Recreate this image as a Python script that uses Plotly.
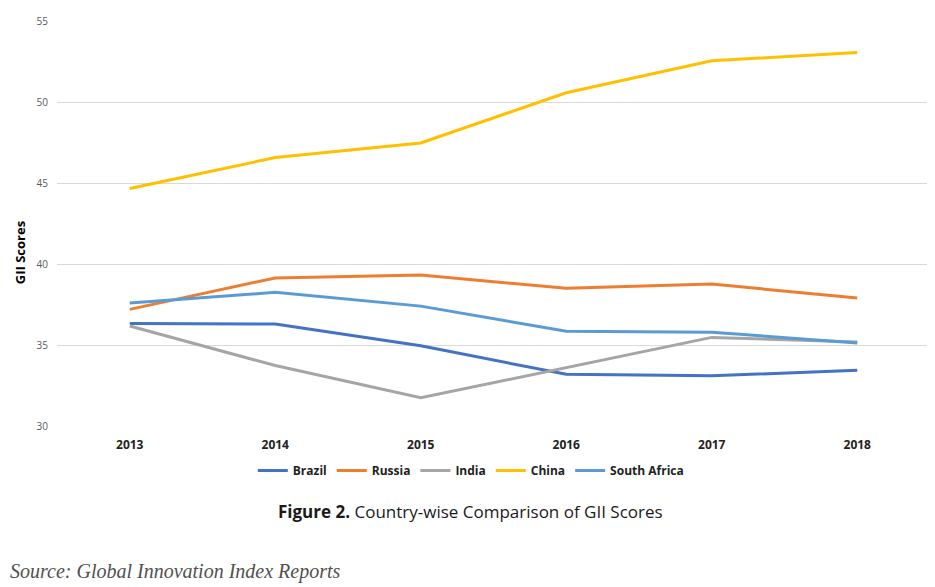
import plotly.graph_objects as go

years = ["2013", "2014", "2015", "2016", "2017", "2018"]
brazil = [36.33, 36.29, 34.95, 33.19, 33.10, 33.44]
russia = [37.20, 39.14, 39.32, 38.50, 38.76, 37.90]
india = [36.17, 33.73, 31.74, 33.61, 35.47, 35.18]
china = [44.66, 46.57, 47.47, 50.57, 52.54, 53.06]
south_africa = [37.60, 38.25, 37.40, 35.85, 35.79, 35.13]

series = [
    ("Brazil", brazil, "#4472C4"),
    ("Russia", russia, "#ED7D31"),
    ("India", india, "#A5A5A5"),
    ("China", china, "#FFC000"),
    ("South Africa", south_africa, "#5B9BD5"),
]

fig = go.Figure()
for name, vals, color in series:
    fig.add_trace(go.Scatter(x=years, y=vals, name=name, mode="lines",
                             line=dict(color=color, width=3)))

fig.update_layout(
    width=927, height=579,
    margin=dict(l=49, r=5, t=8, b=161),
    plot_bgcolor="white", paper_bgcolor="white",
    font=dict(family="Open Sans", color="#000"),
    showlegend=True,
    legend=dict(orientation="h", x=0.474, xanchor="center", y=-0.11, yanchor="middle",
                font=dict(size=12, color="#222", family="Open Sans", weight="bold"),
                itemwidth=30, tracegroupgap=0),
    xaxis=dict(type="category", range=[-0.5, 5.5], showgrid=False, showline=False,
               ticks="", ticklabelstandoff=10,
               tickfont=dict(size=12, color="#222", weight="bold")),
    yaxis=dict(range=[30, 55], dtick=5, showgrid=True, gridcolor="#D9D9D9", gridwidth=1,
               zeroline=False, showline=False, ticks="", ticklabelstandoff=8,
               tickfont=dict(size=10, color="#595959")),
    annotations=[
        dict(text="<b>GII Scores</b>", textangle=-90, x=-0.0424, y=0.429, xref="paper", yref="paper",
             xanchor="center", yanchor="middle",
             showarrow=False, font=dict(size=13, color="#000")),
        dict(text="<b>Figure 2.</b> Country-wise Comparison of GII Scores", x=0.474, y=-0.212,
             xref="paper", yref="paper", showarrow=False, xanchor="center", yanchor="middle",
             font=dict(size=17, color="#1a1a1a")),
        dict(text="<i>Source: Global Innovation Index Reports</i>", x=-0.0561, y=-0.3585,
             xref="paper", yref="paper", showarrow=False, xanchor="left", yanchor="middle",
             font=dict(size=20, color="#505050", family="Liberation Serif")),
    ],
)

fig.write_html("out.html")
